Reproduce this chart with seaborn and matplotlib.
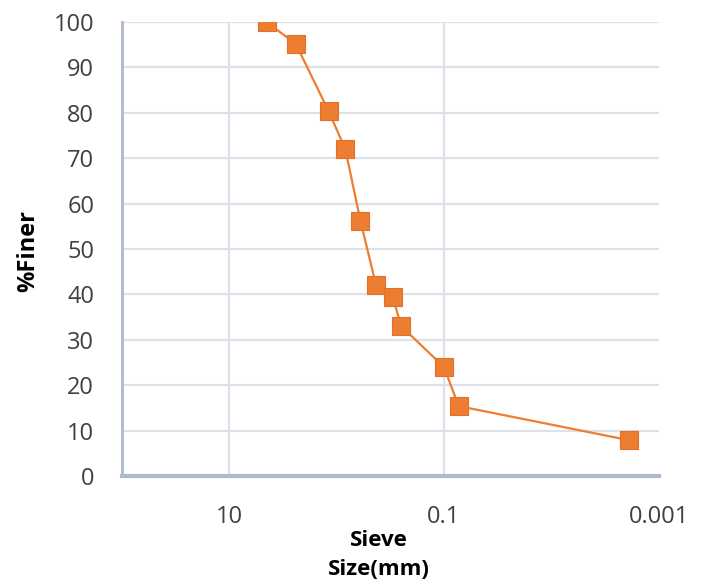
import matplotlib
matplotlib.use("Agg")
import matplotlib.pyplot as plt
import seaborn as sns
import pandas as pd
from matplotlib.ticker import FixedLocator, FixedFormatter, NullLocator

# Sieve analysis results
sieve_size_mm = [4.5, 2.4, 1.19, 0.83, 0.6, 0.43, 0.3, 0.25, 0.1, 0.073, 0.0019]
percent_finer = [100, 95.2, 80.4, 72.0, 56.2, 42.1, 39.4, 33.0, 24.0, 15.4, 7.9]
x_tick_values = [10, 0.1, 0.001]
x_tick_labels = ["10", "0.1", "0.001"]
x_grid_values = [10, 0.1]
y_tick_values = list(range(0, 101, 10))

df = pd.DataFrame({"Sieve Size(mm)": sieve_size_mm, "%Finer": percent_finer})

sns.set_theme(style="white")
plt.rcParams["font.family"] = ["Open Sans", "DejaVu Sans"]

fig = plt.figure(figsize=(7.09, 5.88), dpi=100)
ax = fig.add_axes([0.172, 0.1905, 0.757, 0.772])

grid_color = "#DCE1EA"
ax.grid(True, axis="y", color=grid_color, linewidth=1.6)
for xv in x_grid_values:
    ax.axvline(xv, color=grid_color, linewidth=1.6, zorder=0.5)
ax.set_axisbelow(True)

orange = "#ED7D31"
sns.lineplot(data=df, x="Sieve Size(mm)", y="%Finer", ax=ax, color=orange,
             linewidth=1.6, marker="s", markersize=13, markeredgecolor="#E0702A",
             markeredgewidth=0.8, sort=False, estimator=None, zorder=3)

ax.set_xscale("log")
ax.set_xlim(100, 0.001)
ax.set_ylim(0, 100)

ax.xaxis.set_major_locator(FixedLocator(x_tick_values))
ax.xaxis.set_major_formatter(FixedFormatter(x_tick_labels))
ax.xaxis.set_minor_locator(NullLocator())
ax.set_yticks(y_tick_values)

for side in ["top", "right"]:
    ax.spines[side].set_visible(False)
ax.spines["left"].set_color("#AEB9D0")
ax.spines["left"].set_linewidth(2.0)
ax.spines["bottom"].set_color("#AEB9D0")
ax.spines["bottom"].set_linewidth(3.0)

ax.tick_params(axis="both", length=0, labelsize=17, labelcolor="#404040")
ax.tick_params(axis="x", pad=21)
ax.tick_params(axis="y", pad=20)

ax.set_xlabel("Sieve\nSize(mm)", fontsize=16, fontweight="bold", color="black",
              linespacing=1.5)
ax.xaxis.set_label_coords(0.478, -0.118, transform=ax.transAxes)
ax.xaxis.label.set_verticalalignment("top")
ax.set_ylabel("%Finer", fontsize=17, fontweight="bold", color="black")
ax.yaxis.set_label_coords(-0.152, 0.495)

fig.savefig("out.png", dpi=100, facecolor="white")
